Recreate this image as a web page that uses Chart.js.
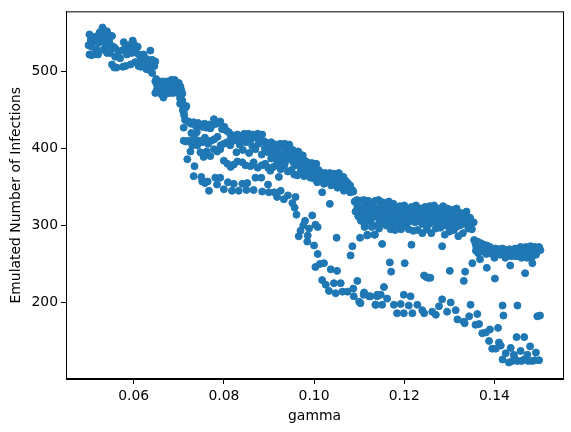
<!DOCTYPE html>
<html>
<head>
<meta charset="utf-8">
<style>
  html, body { margin: 0; padding: 0; background: #fff; }
  #wrap { width: 571px; height: 432px; }
</style>
<script src="https://cdn.jsdelivr.net/npm/chart.js@4"></script>
</head>
<body>
<div id="wrap"><canvas id="chart" width="571" height="432"></canvas></div>
<script>
// values, grouped by the visible bands
const headGamma = [.0502,.0515,.0531,.0541,.0552,.0555,.0578,.0598,.0609,.0622,.0637,.0648,.0646,.0500,.0511,.0522,.0522,.0533,.0533,.0544,.0548,.0559,.0567,.0559,.0570,.0581,.0589,.0585,.0596,.0604,.0611,.0615,.0626,.0633,.0641,.0518,.0507,.0533,.0548,.0502,.0506,.0511,.0521,.0541,.0552,.0557,.0562,.0576,.0582,.0593,.0603,.0611,.0616,.0628,.0634,.0641,.0620,.0505,.0525,.0528,.0537,.0538,.0546,.0574,.0592,.0601,.0617,.0629];
const headInf = [548,545,557,552,546,532,538,540,532,522,527,513,507,534,539,547,537,547,539,543,534,530,526,519,517,530,534,522,524,528,522,515,513,511,515,528,532,528,524,522,521,522,522,524,509,505,505,506,507,509,512,507,506,503,502,498,510,541,551,541,552,533,538,527,531,535,519,516];

const stepGamma = [.0648,.0648,.0652,.0652,.0655,.0656,.0660,.0660,.0662,.0664,.0666,.0667,.0670,.0670,.0672,.0674,.0676,.0677,.0680,.0680,.0682,.0684,.0685,.0686,.0688,.0690,.0691,.0692,.0695,.0696,.0698,.0700,.0702,.0704,.0706,.0708,.0650,.0658,.0668,.0678,.0694,.0703,.0703,.0715,.0712,.0717,.0708,.0711,.0711,.0714,.0709];
const stepInf = [487,472,482,477,474,487,484,477,470,487,466,480,485,475,471,487,483,476,487,472,481,489,476,486,472,483,489,476,485,478,474,485,470,480,475,471,490,480,472,480,480,465,458,453,443,455,462,427,447,437,450];

const topGamma = [.0722,.0727,.0733,.0738,.0743,.0748,.0752,.0757,.0761,.0766,.0770,.0774,.0778,.0783,.0787,.0792,.0796,.0801,.0806,.0811,.0816,.0820,.0825,.0830,.0835,.0840,.0845,.0850,.0855,.0860,.0865,.0870,.0875,.0880,.0885,.0890,.0895,.0900,.0905,.0910,.0915,.0920,.0925,.0930,.0935,.0940,.0945,.0950,.0955,.0960,.0965,.0970,.0975,.0980,.0985,.0990,.0995,.1000,.1005,.1010,.1015,.1020,.1025,.1030,.1035,.1040,.1045,.1050,.1055,.1060,.1065,.1070,.1075,.1080,.1085];
const topInf = [435,432,434,429,433,431,428,432,427,431,426,430,438,432,433,435,425,428,423,421,415,417,413,418,416,412,419,415,419,412,418,414,419,413,418,409,407,403,408,402,405,400,406,401,406,403,405,399,397,392,396,388,391,384,382,378,381,376,380,372,369,366,368,364,368,362,367,360,368,356,363,358,355,352,346];

const underGamma = [.0728,.0735,.0740,.0746,.0752,.0758,.0765,.0772,.0779,.0786,.0793,.0800,.0807,.0814,.0821,.0828,.0835,.0842,.0849,.0856,.0863,.0870,.0877,.0884,.0891,.0898,.0905,.0912,.0919,.0926,.0933,.0940,.0947,.0954,.0961,.0968,.0975,.0982,.0989,.0996,.1003,.1010,.1017,.1024,.1031,.1038,.1045,.1052,.1059,.1066,.1073,.1080,.1087];
const underInf = [420,413,421,410,408,414,406,410,412,415,404,406,408,404,410,395,405,398,408,394,403,399,406,392,400,395,398,388,394,385,392,386,390,382,384,378,380,372,374,368,370,362,365,358,362,356,360,350,357,350,352,343,344];

const lowerGamma = [.0748,.0755,.0762,.0770,.0778,.0785,.0792,.0800,.0808,.0815,.0822,.0830,.0841,.0848,.0859,.0866,.0875,.0884,.0892,.0898,.0903,.0910,.0918,.0926,.0934,.0942,.0950,.0956,.0963,.0970,.0978,.0985,.0992,.1000,.1007,.1014,.1022,.1030,.1038,.1044,.1052,.1060,.1066];
const lowerInf = [395,389,396,390,399,396,399,384,380,376,379,383,382,378,377,382,375,378,380,375,371,376,380,373,378,370,372,366,365,370,364,366,362,361,356,359,354,358,352,356,349,352,345];

const bandFillGamma = [.0905,.0912,.0920,.0928,.0935,.0942,.0950,.0958,.0965,.0972,.0980,.0988,.0995,.1002,.1012,.1022,.1032,.1042,.1052,.1062,.1072];
const bandFillInf = [387,392,382,390,380,395,386,378,388,375,376,368,366,372,365,365,358,366,360,358,348];

const thirdGamma = [.0711,.0722,.0716,.0730,.0726,.0741,.0752,.0764,.0767,.0781,.0792,.0785,.0800,.0809,.0818,.0822,.0833,.0841,.0852,.0850,.0866,.0870,.0883,.0898,.0885,.0900,.0912,.0926,.0918,.0933,.0942,.0959,.0952,.0957,.0961,.0996,.0980,.0976,.0970,.0966,.0989,.0986,.0985,.1003,.1008,.1000,.1008,.1050,.1102,.1118,.1135,.1085,.1081,.1018,.1035,.0922,.0719,.0735,.0733,.0750,.0758];
const thirdInf = [410,410,409,404,396,404,357,357,345,362,362,353,347,356,345,354,345,354,355,346,346,362,362,353,344,343,343,345,337,334,339,337,329,323,314,313,306,300,293,286,296,287,279,301,298,274,263,284,284,288,288,273,261,343,328,363,386,377,364,363,355];

const plateauGamma = [.1090,.1095,.1100,.1103,.1106,.1110,.1113,.1116,.1120,.1123,.1126,.1130,.1133,.1136,.1140,.1143,.1146,.1150,.1153,.1156,.1160,.1163,.1166,.1170,.1173,.1176,.1180,.1183,.1186,.1190,.1193,.1196,.1200,.1203,.1206,.1210,.1213,.1216,.1220,.1223,.1226,.1230,.1233,.1236,.1240,.1243,.1246,.1250,.1253,.1256,.1260,.1263,.1266,.1270,.1273,.1276,.1280,.1283,.1286,.1290,.1293,.1296,.1300,.1303,.1306,.1310,.1313,.1316,.1320,.1323,.1326,.1330,.1334,.1338,.1342,.1346,.1350,.1354];
const plateauInf = [331,333,318,332,312,333,325,308,332,318,305,330,312,332,300,333,320,303,330,310,300,325,331,295,315,328,294,322,306,325,295,318,326,300,322,295,320,324,293,312,326,294,316,322,290,310,324,295,315,325,290,318,326,296,310,322,297,316,325,288,305,322,292,312,320,294,308,322,286,300,316,290,305,318,296,310,295,304];

const plateauBaseGamma = [.1092,.1098,.1104,.1112,.1118,.1124,.1132,.1138,.1144,.1152,.1158,.1165,.1172,.1178,.1186,.1192,.1200,.1208,.1214,.1222,.1228,.1236,.1244,.1252,.1260,.1268,.1276,.1284,.1292,.1300,.1308,.1316,.1324,.1332,.1340,.1348];
const plateauBaseInf = [318,312,306,303,318,310,315,322,308,318,312,305,310,318,312,300,313,318,306,312,320,305,312,318,308,305,315,310,300,318,312,306,313,308,302,300];

const plateauFillGamma = [.1096,.1102,.1108,.1114,.1120,.1127,.1134,.1141,.1148,.1154,.1161,.1168,.1174,.1181,.1188,.1194,.1201,.1207,.1215,.1221,.1227,.1234,.1241,.1248,.1255,.1262,.1269,.1275,.1282,.1288,.1295,.1302,.1309,.1315,.1322,.1329,.1336,.1343,.1112,.1128,.1144,.1160,.1176,.1192,.1208,.1224,.1240,.1256,.1272,.1288,.1304,.1320];
const plateauFillInf = [325,310,322,314,324,312,322,315,326,312,320,310,322,314,324,308,318,310,316,306,316,312,318,306,320,312,318,304,320,306,314,304,316,298,310,302,312,302,298,298,296,304,302,300,304,304,302,302,304,300,300,300];

const tailGamma = [.1355,.1358,.1360,.1362,.1365,.1368,.1370,.1373,.1376,.1380,.1383,.1386,.1390,.1394,.1398,.1402,.1406,.1410,.1414,.1418,.1422,.1426,.1430,.1434,.1438,.1442,.1446,.1450,.1454,.1458,.1462,.1466,.1470,.1473,.1476,.1480,.1483,.1486,.1490,.1493,.1496,.1499,.1502,.1359,.1364,.1372,.1382,.1392,.1400,.1412,.1424,.1436,.1448,.1460,.1472,.1482,.1492];
const tailInf = [281,276,271,279,275,270,277,268,275,270,274,266,272,268,262,270,264,269,265,270,262,268,264,269,260,266,270,264,268,272,262,268,272,264,270,273,262,268,272,265,270,272,268,267,264,266,263,264,258,262,258,262,260,258,258,257,262];

const sparseGamma = [.1118,.1134,.1151,.1168,.1201,.1171,.1216,.1284,.1244,.1249,.1253,.1258,.1301,.1335,.1332,.1351,.1368,.1383,.1401,.1435,.1468,.1484];
const sparseInf = [287,288,276,252,251,240,275,273,235,233,232,232,241,240,228,251,256,245,231,248,238,251];

const bottomGamma = [.1003,.1013,.1022,.1037,.1051,.1018,.1026,.1044,.1059,.1096,.1033,.1048,.1063,.1074,.1087,.1088,.1111,.1100,.1122,.1137,.1140,.1148,.1110,.1125,.1140,.1162,.1199,.1214,.1155,.1103,.1136,.1151,.1177,.1192,.1184,.1199,.1210,.1218,.1229,.1240,.1244,.1262,.1277,.1270,.1284,.1303,.1295,.1314,.1318,.1332,.1344,.1347,.1362,.1358,.1366,.1334,.1373,.1381,.1390,.1408,.1388,.1410,.1414,.1395,.1403,.1418,.1451,.1420,.1495,.1501,.1449,.1466,.1436,.1425,.1418,.1432,.1443,.1458,.1451,.1466,.1479,.1484,.1492,.1499,.1473,.1440,.1460,.1475,.1490,.1445];
const bottomInf = [246,250,251,243,241,229,223,225,225,228,215,212,214,214,218,208,213,201,208,197,208,210,210,208,210,205,210,208,220,199,197,197,197,198,186,186,196,186,197,190,186,188,195,184,204,200,188,190,178,175,182,197,185,171,172,173,160,161,165,167,150,148,144,140,140,196,196,183,182,183,155,155,141,134,126,122,132,137,124,126,143,124,135,125,132,124,124,124,125,127];

const xTicks = [0.06, 0.08, 0.10, 0.12, 0.14];
const yTicks = [200, 300, 400, 500];

const allGamma = [].concat(headGamma, stepGamma, topGamma, underGamma, lowerGamma, bandFillGamma, thirdGamma, plateauGamma, plateauBaseGamma, plateauFillGamma, tailGamma, sparseGamma, bottomGamma);
const allInf = [].concat(headInf, stepInf, topInf, underInf, lowerInf, bandFillInf, thirdInf, plateauInf, plateauBaseInf, plateauFillInf, tailInf, sparseInf, bottomInf);

const frame = {
  id: 'frame',
  afterDraw(chart) {
    const { ctx, chartArea: a } = chart;
    ctx.save();
    ctx.strokeStyle = '#000';
    ctx.lineWidth = 1;
    ctx.strokeRect(a.left + 0.5, a.top + 0.5, a.right - a.left, a.bottom - a.top);
    ctx.restore();
  }
};

Chart.defaults.font.family = '"DejaVu Sans"';
Chart.defaults.color = '#000';

new Chart(document.getElementById('chart'), {
  type: 'scatter',
  data: {
    datasets: [{
      data: allGamma.map((g, i) => ({ x: g, y: allInf[i] })),
      backgroundColor: '#1f77b4',
      borderColor: '#1f77b4',
      borderWidth: 1,
      pointRadius: 3.5
    }]
  },
  options: {
    responsive: false,
    animation: false,
    layout: { padding: { top: 9, right: 8, left: 0, bottom: 0 } },
    plugins: { legend: { display: false }, tooltip: { enabled: false } },
    scales: {
      x: {
        type: 'linear',
        min: 0.045,
        max: 0.1552,
        afterBuildTicks: s => { s.ticks = xTicks.map(v => ({ value: v })); },
        afterFit: s => { s.height = 53; },
        grid: { drawOnChartArea: false, tickLength: 5, color: '#000' },
        border: { color: '#000' },
        ticks: { font: { size: 13.9 }, padding: 4, maxRotation: 0, callback: v => v.toFixed(2) },
        title: { display: true, text: 'gamma', font: { size: 13.9 }, padding: { top: 3, bottom: 7 } }
      },
      y: {
        type: 'linear',
        min: 100.6,
        max: 578,
        afterBuildTicks: s => { s.ticks = yTicks.map(v => ({ value: v })); },
        afterFit: s => { s.width = 66; },
        grid: { drawOnChartArea: false, tickLength: 5, color: '#000' },
        border: { color: '#000' },
        ticks: { font: { size: 13.9 }, padding: 3, callback: v => String(v) },
        title: { display: true, text: 'Emulated Number of Infections', font: { size: 13.9 }, padding: { top: 8, bottom: 0 } }
      }
    }
  },
  plugins: [frame]
});
</script>
</body>
</html>
